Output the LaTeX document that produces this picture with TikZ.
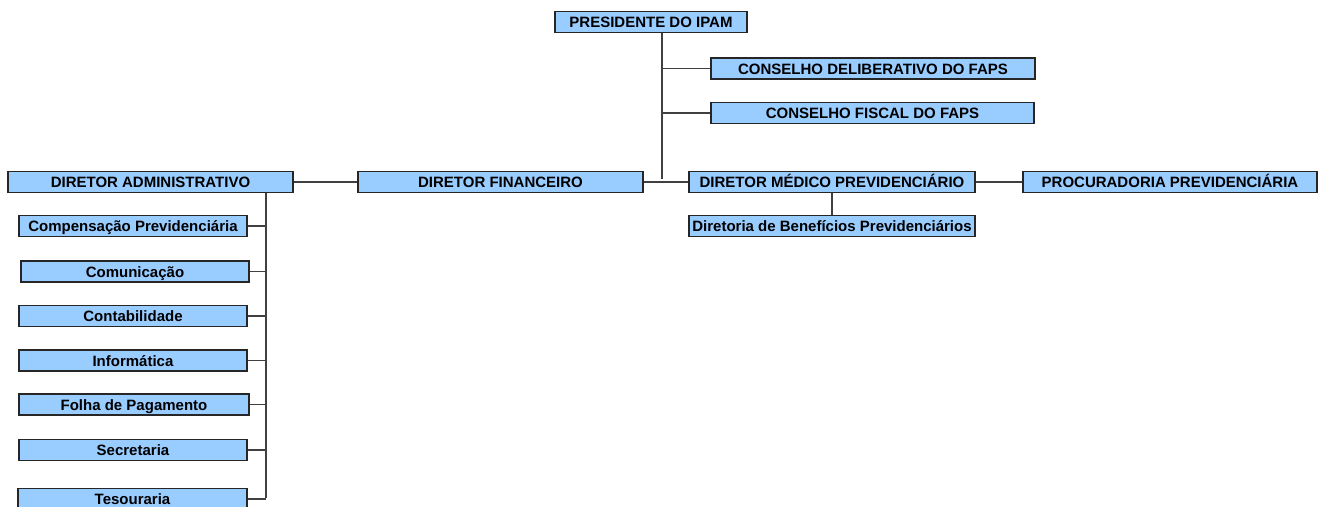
\documentclass[tikz,border=0pt]{standalone}
\usepackage{fontspec}
\setmainfont{Liberation Sans}
\usepackage{tikz}

\definecolor{boxblue}{HTML}{99CCFF}
\tikzset{
  unit/.style={draw=black!85, line width=1.1pt, fill=boxblue, inner sep=0pt,
    minimum height=21pt, text height=13pt, text depth=2pt,
    font=\fontsize{15}{17}\selectfont\bfseries},
  link/.style={draw=black!75, line width=1.2pt}
}

\begin{document}
\begin{tikzpicture}[x=1pt, y=-1pt]
        \useasboundingbox (0,0) rectangle (1321,506);

        \node[unit, minimum width=192pt] (pres) at (651,22) {PRESIDENTE DO IPAM};
        \node[unit, minimum width=324pt] (delib) at (873,68.5) {CONSELHO DELIBERATIVO DO FAPS};
        \node[unit, minimum width=323pt] (fiscal) at (872.5,113) {CONSELHO FISCAL DO FAPS};

        \node[unit, minimum width=285pt] (adm) at (150.5,182) {DIRETOR ADMINISTRATIVO};
        \node[unit, minimum width=285pt] (fin) at (500.5,182) {DIRETOR FINANCEIRO};
        \node[unit, minimum width=286pt] (med) at (832,182) {DIRETOR MÉDICO PREVIDENCIÁRIO};
        \node[unit, minimum width=294pt] (proc) at (1170,182) {PROCURADORIA PREVIDENCIÁRIA};
        \node[unit, minimum width=286pt] (benef) at (832,226) {Diretoria de Benefícios Previdenciários};

        \node[unit, minimum width=228pt] (comp) at (133,226) {Compensação Previdenciária};
        \node[unit, minimum width=228pt] (comun) at (135,271.5) {Comunicação};
        \node[unit, minimum width=228pt] (contab) at (133,316) {Contabilidade};
        \node[unit, minimum width=228pt] (info) at (133,360.5) {Informática};
        \node[unit, minimum width=230pt] (folha) at (134,404.5) {Folha de Pagamento};
        \node[unit, minimum width=228pt] (secr) at (133,450) {Secretaria};
        \node[unit, minimum width=229pt] (tesour) at (132.5,499) {Tesouraria};

        \coordinate (trunk) at (662,179);
        \coordinate (spine) at (266,498);

        \draw[link] (pres.south -| trunk) -- (trunk);
        \draw[link] (delib.west -| trunk) -- (delib.west);
        \draw[link] (fiscal.west -| trunk) -- (fiscal.west);
        \draw[link] (adm.east) -- (fin.west);
        \draw[link] (fin.east) -- (med.west);
        \draw[link] (med.east) -- (proc.west);
        \draw[link] (med.south) -- (benef.north);

        \draw[link] (adm.south -| spine) -- (spine);
        \foreach \n in {comp,comun,contab,info,folha,secr,tesour}
          \draw[link] (\n.east) -- (\n.east -| spine);
\end{tikzpicture}
\end{document}
